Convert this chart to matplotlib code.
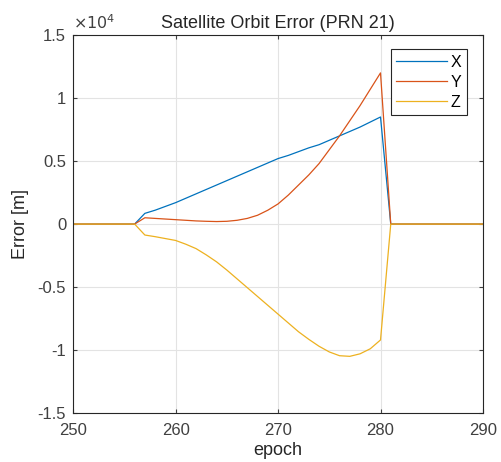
import numpy as np
import matplotlib
matplotlib.use("Agg")
import matplotlib.pyplot as plt
from matplotlib.ticker import FuncFormatter

plt.rcParams['font.family'] = ['Liberation Sans', 'DejaVu Sans']
plt.rcParams['axes.unicode_minus'] = False

epoch = np.arange(250, 291)
# error values, epochs 257..280 (zero elsewhere)
x_err = [850, 1100, 1400, 1700, 2050, 2400, 2750, 3100, 3450, 3800, 4150, 4500,
         4850, 5200, 5450, 5750, 6050, 6300, 6650, 7000, 7350, 7700, 8100, 8500]
y_err = [500, 450, 400, 350, 300, 250, 220, 200, 220, 300, 450, 700,
         1100, 1600, 2300, 3100, 3900, 4800, 5900, 7000, 8200, 9400, 10700, 12000]
z_err = [-870, -1000, -1150, -1300, -1600, -1950, -2450, -3000, -3650, -4350, -5050, -5750,
         -6450, -7150, -7850, -8550, -9150, -9700, -10150, -10450, -10500, -10300, -9900, -9200]

def full(vals):
    out = np.zeros(len(epoch))
    out[7:7 + len(vals)] = vals
    return out

fig = plt.figure(figsize=(5.01, 4.62), dpi=100)
ax = fig.add_axes([0.146, 0.106, 0.818, 0.818])

ax.plot(epoch, full(x_err), color='#0072BD', lw=0.9, label='X')
ax.plot(epoch, full(y_err), color='#D95319', lw=0.9, label='Y')
ax.plot(epoch, full(z_err), color='#EDB120', lw=0.9, label='Z')

ax.set_xlim(250, 290)
ax.set_ylim(-1.5e4, 1.5e4)
ax.set_xticks([250, 260, 270, 280, 290])
ax.set_yticks(np.arange(-1.5e4, 1.51e4, 0.5e4))
ax.yaxis.set_major_formatter(FuncFormatter(lambda v, p: '%g' % (v / 1e4)))
ax.grid(True, color='#e3e3e3', lw=0.8)
ax.tick_params(direction='in', length=3, labelsize=12, colors='#404040',
               top=True, right=True)
ax.tick_params(axis='x', pad=7)
ax.tick_params(axis='y', pad=5)
for s in ax.spines.values():
    s.set_color('#262626')
    s.set_linewidth(0.8)

ax.text(0.0, 1.008, r'$\times10^4$', transform=ax.transAxes, fontsize=11.5,
        color='#404040', ha='left', va='bottom')
ax.set_title('Satellite Orbit Error (PRN 21)', fontsize=13, pad=5, color='#262626')
ax.set_xlabel('epoch', fontsize=13, labelpad=3, color='#262626')
ax.set_ylabel('Error [m]', fontsize=13, labelpad=6, color='#262626')

leg = ax.legend(loc='upper right', bbox_to_anchor=(0.961, 0.962), fontsize=11.5,
                fancybox=False, framealpha=1, edgecolor='#262626',
                handlelength=3.2, handletextpad=0.2, borderaxespad=0,
                labelspacing=0.3, borderpad=0.35)
leg.get_frame().set_linewidth(0.8)

fig.savefig('out.png', dpi=100)
